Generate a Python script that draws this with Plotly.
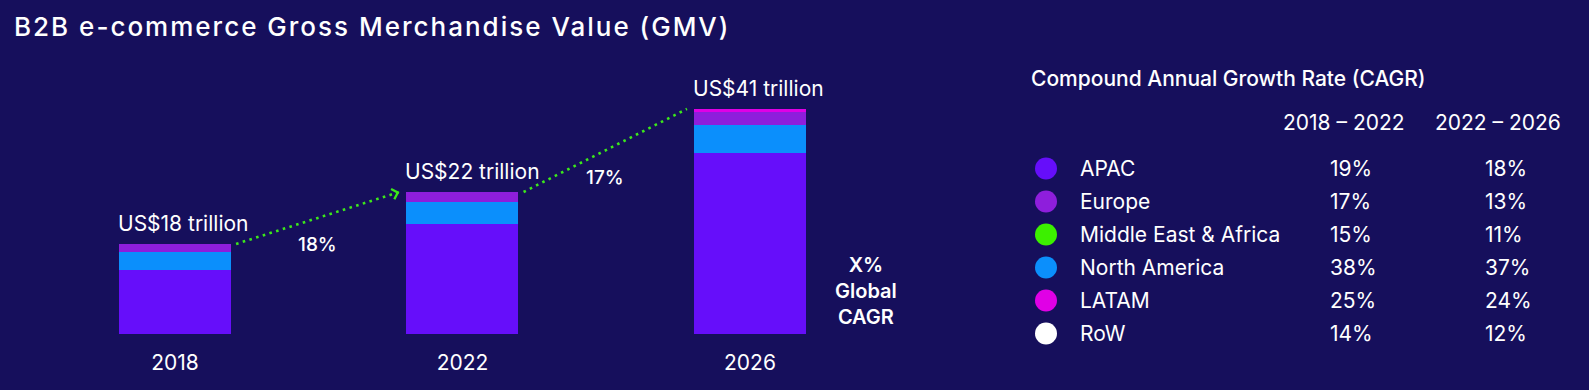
import plotly.graph_objects as go

# ---------------- data ----------------
years = ["2018", "2022", "2026"]
gmv_labels = ["US$18 trillion", "US$22 trillion", "US$41 trillion"]
# stacked segment heights as drawn in the picture (graphic is not to scale)
apac = [11.84, 20.04, 33.15]
north_america = [3.10, 4.01, 5.10]
europe = [1.46, 1.82, 2.19]
latam = [0.0, 0.0, 0.55]
global_cagr = ["18%", "17%"]

regions = ["APAC", "Europe", "Middle East & Africa", "North America", "LATAM", "RoW"]
cagr_2018_2022 = ["19%", "17%", "15%", "38%", "25%", "14%"]
cagr_2022_2026 = ["18%", "13%", "11%", "37%", "24%", "12%"]
period_labels = ["2018 – 2022", "2022 – 2026"]

# ---------------- style ----------------
W, H = 1589, 390
BG = "#160F5C"
WHITE = "#FFFFFF"
C_APAC = "#660EFA"
C_EU = "#8E1EDC"
C_MEA = "#3CF000"
C_NA = "#0B8FFC"
C_LATAM = "#E000E6"
C_ROW = "#FFFFFF"
ARROW = "#3CE81A"
FONT = "Inter"
region_colors = [C_APAC, C_EU, C_MEA, C_NA, C_LATAM, C_ROW]
BAR_W = 0.39


def px_x(p):
    return p / W


def px_y(p):
    return (H - p) / H


fig = go.Figure()
xs = list(range(len(years)))
for name, vals, col in [("APAC", apac, C_APAC), ("North America", north_america, C_NA),
                        ("Europe", europe, C_EU), ("LATAM", latam, C_LATAM)]:
    fig.add_trace(go.Bar(x=xs, y=vals, name=name, width=BAR_W, marker=dict(color=col, line=dict(width=0)),
                         showlegend=False, hoverinfo="skip"))

totals = [a + b + c + d for a, b, c, d in zip(apac, north_america, europe, latam)]

annotations = []
# value labels over bars
for i, (t, lab) in enumerate(zip(totals, gmv_labels)):
    annotations.append(dict(x=i - BAR_W / 2, y=t, xref="x", yref="y", text=lab, showarrow=False,
                            xanchor="left", yanchor="middle", xshift=-3, yshift=20,
                            font=dict(family=FONT, size=21, color=WHITE)))

# growth arrows between bars
PXU_X = (893.75 - 31.25) / 3.0   # px per x unit
PXU_Y = 5.49                     # px per y unit
shapes = []
for i, lab in enumerate(global_cagr):
    x0 = i + BAR_W / 2 + 5 / PXU_X
    y0 = totals[i]
    x1 = i + 1 - BAR_W / 2 - 7 / PXU_X
    y1 = totals[i + 1]
    shapes.append(dict(type="line", xref="x", yref="y", x0=x0, y0=y0, x1=x1, y1=y1,
                       line=dict(color=ARROW, width=2.6, dash="2.6px,4.4px")))
    # arrow head
    dxp = (x1 - x0) * PXU_X
    dyp = (y1 - y0) * PXU_Y
    L = (dxp ** 2 + dyp ** 2) ** 0.5
    annotations.append(dict(x=x1, y=y1, xref="x", yref="y", text="", showarrow=True,
                            ax=-dxp / L * 5, ay=dyp / L * 5, axref="pixel", ayref="pixel",
                            arrowhead=4, arrowsize=1.3, arrowwidth=1.6, arrowcolor=ARROW))
    annotations.append(dict(x=(x0 + x1) / 2, y=(y0 + y1) / 2, xref="x", yref="y", text=lab,
                            showarrow=False, yshift=-27, xanchor="center", yanchor="middle",
                            font=dict(family=FONT, size=19, color=WHITE, weight=500)))

annotations.append(dict(x=px_x(866), y=px_y(291), xref="paper", yref="paper",
                        text="X%<br>Global<br>CAGR", showarrow=False, align="center",
                        xanchor="center", yanchor="middle",
                        font=dict(family=FONT, size=20, color=WHITE, weight=600)))

# ---------------- CAGR table ----------------
fig.add_trace(go.Scatter(x=[1046] * len(regions), y=regions, xaxis="x2", yaxis="y2", mode="markers",
                         marker=dict(size=22, color=region_colors, line=dict(width=0)),
                         showlegend=False, hoverinfo="skip"))
annotations.append(dict(x=px_x(1029), y=px_y(79), xref="paper", yref="paper",
                        text="Compound Annual Growth Rate (CAGR)", showarrow=False,
                        xanchor="left", yanchor="middle",
                        font=dict(family=FONT, size=21, color=WHITE, weight=500)))
for cx, lab in zip([1344, 1498], period_labels):
    annotations.append(dict(x=px_x(cx), y=px_y(122), xref="paper", yref="paper", text=lab,
                            showarrow=False, xanchor="center", yanchor="middle",
                            font=dict(family=FONT, size=21, color=WHITE)))
for r, v1, v2 in zip(regions, cagr_2018_2022, cagr_2022_2026):
    for xx, t in [(1078, r), (1328, v1), (1483, v2)]:
        annotations.append(dict(x=px_x(xx), y=r, xref="paper", yref="y2", text=t, showarrow=False,
                                xanchor="left", yanchor="middle",
                                font=dict(family=FONT, size=21, color=WHITE)))

fig.update_layout(
    width=W, height=H, margin=dict(l=0, r=0, t=0, b=0),
    paper_bgcolor=BG, plot_bgcolor="rgba(0,0,0,0)",
    barmode="stack", bargap=0,
    title=dict(text='<span style="letter-spacing:2px">B2B e-commerce Gross Merchandise Value (GMV)</span>',
               x=px_x(14), xanchor="left", y=px_y(27), yanchor="middle",
               font=dict(family=FONT, size=26, color=WHITE, weight=500)),
    xaxis=dict(domain=[px_x(31.25), px_x(893.75)], range=[-0.5, 2.5], tickvals=xs, ticktext=years,
               showgrid=False, zeroline=False, showline=False, ticks="", ticklabelstandoff=14,
               tickfont=dict(family=FONT, size=21, color=WHITE), fixedrange=True),
    yaxis=dict(domain=[px_y(334), px_y(59.5)], range=[0, 50], visible=False, fixedrange=True),
    xaxis2=dict(domain=[px_x(1000), 1.0], range=[1000, 1589], visible=False, anchor="y2", fixedrange=True),
    yaxis2=dict(domain=[px_y(350), px_y(152)], type="category", categoryarray=regions,
                range=[5.5, -0.5], visible=False, anchor="x2", fixedrange=True),
    annotations=annotations, shapes=shapes,
    hovermode=False,
)

fig.write_html("out.html", config={"displayModeBar": False},
               post_script="document.body.style.margin='0px';document.body.style.background='" + BG + "';")
